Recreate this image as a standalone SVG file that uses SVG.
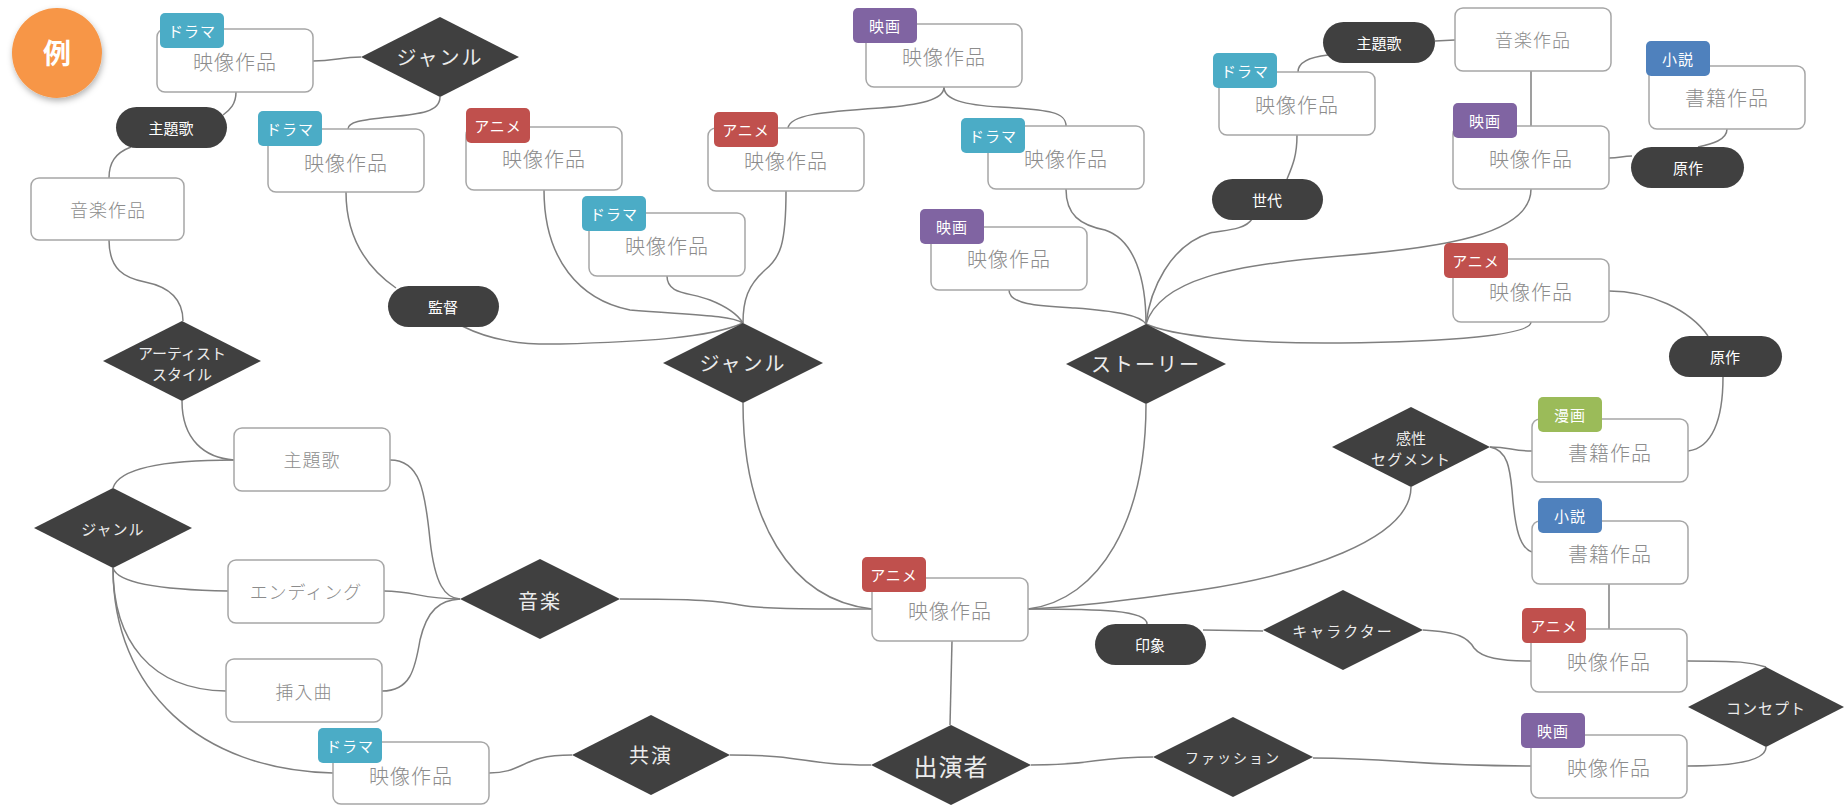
<svg xmlns="http://www.w3.org/2000/svg" width="1845" height="805" viewBox="0 0 1845 805">
<defs>
<filter id="sh" x="-30%" y="-30%" width="160%" height="160%"><feDropShadow dx="1" dy="3" stdDeviation="3" flood-color="#000" flood-opacity="0.3"/></filter>
<style>
text{font-family:"Noto Sans CJK JP","Noto Sans",sans-serif;text-anchor:middle;dominant-baseline:central}
.box{fill:#fff;stroke:#a6a6a6;stroke-width:1.5}
.dia,.pill{fill:#404040}
.drama{fill:#4BACC6}.anime{fill:#C0504D}.eiga{fill:#8064A2}.shosetsu{fill:#4F81BD}.manga{fill:#9BBB59}
.conn path{fill:none;stroke:#7f7f7f;stroke-width:1.5}
.bt{font-size:20px;fill:#8c8c8c;font-weight:300;letter-spacing:1px}
.bs{font-size:18px;fill:#8c8c8c;font-weight:300;letter-spacing:1px}
.tt{font-size:15px;fill:#fff;letter-spacing:1px}
.dt{font-size:20px;fill:#ececec;letter-spacing:2px}
.ds{font-size:15px;fill:#ececec}
.pt{font-size:15px;fill:#fff}
</style>
</defs>
<rect width="1845" height="805" fill="#fff"/>
<g id="connectors" class="conn">
<path d="M313,61 C335,61 340,57 361,57"/>
<path d="M236,92 C236,104 230,110 223,115"/>
<path d="M131,147 C115,153 109,163 109,178"/>
<path d="M109,240 C109,270 125,278 145,282 C170,287 183,300 183,321"/>
<path d="M440,97 C440,112 420,114 390,117 C360,120 348,122 348,129"/>
<path d="M346,192 C346,240 370,270 396,288"/>
<path d="M462,326 C490,340 520,345 560,344 C640,342 710,338 743,323"/>
<path d="M544,190 C544,260 580,300 630,310 C690,315 730,315 743,323"/>
<path d="M667,276 C667,295 690,292 710,300 C730,308 738,315 743,323"/>
<path d="M786,191 C786,245 780,258 765,270 C748,285 743,300 743,323"/>
<path d="M944,87 C944,100 920,105 880,108 C820,112 790,115 788,128"/>
<path d="M944,87 C944,100 965,105 1000,107 C1050,110 1066,112 1066,126"/>
<path d="M1066,189 C1066,215 1080,225 1105,230 C1135,240 1146,280 1146,324"/>
<path d="M1009,290 C1009,305 1040,306 1075,308 C1115,311 1140,315 1146,324"/>
<path d="M1252,219 C1245,230 1225,230 1210,233 C1170,245 1150,290 1146,324"/>
<path d="M1531,189 C1531,235 1440,248 1340,256 C1230,265 1160,280 1146,324"/>
<path d="M1531,322 C1531,335 1450,342 1340,343 C1240,344 1170,335 1146,324"/>
<path d="M1297,135 C1297,155 1293,165 1287,179"/>
<path d="M1298,72 C1298,62 1310,57 1328,55"/>
<path d="M1435,41 L1455,40"/>
<path d="M1531,71 L1531,126"/>
<path d="M1609,158 C1620,158 1622,156 1632,156"/>
<path d="M1727,129 C1727,140 1712,144 1698,147"/>
<path d="M1609,291 C1650,291 1690,310 1708,336"/>
<path d="M1723,377 C1723,420 1712,448 1688,451"/>
<path d="M1490,447 C1510,447 1512,451 1532,451"/>
<path d="M1490,447 C1508,450 1510,470 1512,490 C1515,530 1520,548 1532,552"/>
<path d="M1411,487 C1411,540 1300,575 1200,590 C1110,603 1060,608 1028,609"/>
<path d="M1609,584 L1609,629"/>
<path d="M1423,630 C1460,632 1468,638 1474,648 C1482,658 1500,661 1531,661"/>
<path d="M1203,630 L1263,631"/>
<path d="M1028,609 C1100,609 1147,610 1147,624"/>
<path d="M743,403 C743,520 790,600 872,609"/>
<path d="M1146,404 C1146,520 1100,600 1028,609"/>
<path d="M620,599 C700,599 720,601 740,605 C760,609 800,609 872,609"/>
<path d="M952,641 L950,725"/>
<path d="M871,765 C800,765 810,755 730,755"/>
<path d="M1031,765 C1100,765 1090,757 1153,757"/>
<path d="M1313,758 C1400,758 1410,766 1531,766"/>
<path d="M1687,766 C1740,766 1766,760 1766,747"/>
<path d="M1687,661 C1740,661 1750,662 1766,667"/>
<path d="M489,773 C525,773 520,755 572,755"/>
<path d="M113,488 C120,465 180,460 234,460"/>
<path d="M182,401 C182,440 205,458 234,460"/>
<path d="M113,568 C118,585 170,590 228,591"/>
<path d="M113,568 C113,640 150,690 226,691"/>
<path d="M113,568 C113,690 200,770 333,773"/>
<path d="M390,460 C420,460 425,490 430,540 C435,585 445,598 460,599"/>
<path d="M384,591 C415,591 420,599 460,599"/>
<path d="M382,691 C410,691 415,670 420,640 C427,610 440,600 460,599"/>
</g>
<g id="badge"><circle cx="57" cy="53" r="45" fill="#F79646" filter="url(#sh)"/><text x="57" y="52" style="font-size:28px;font-weight:bold;fill:#fff">例</text></g>

<g id="b1"><rect class="box" x="157" y="29" width="156" height="63" rx="8"/><rect class="drama" x="160" y="13" width="64" height="35" rx="5"/><text class="tt" x="192" y="30">ドラマ</text><text class="bt" x="235" y="61">映像作品</text></g>
<g id="b2"><rect class="box" x="268" y="129" width="156" height="63" rx="8"/><rect class="drama" x="258" y="111" width="64" height="35" rx="5"/><text class="tt" x="290" y="128">ドラマ</text><text class="bt" x="346" y="162">映像作品</text></g>
<g id="b3"><rect class="box" x="466" y="127" width="156" height="63" rx="8"/><rect class="anime" x="466" y="108" width="64" height="35" rx="5"/><text class="tt" x="498" y="125">アニメ</text><text class="bt" x="544" y="158">映像作品</text></g>
<g id="b4"><rect class="box" x="866" y="24" width="156" height="63" rx="8"/><rect class="eiga" x="853" y="8" width="64" height="35" rx="5"/><text class="tt" x="885" y="25">映画</text><text class="bt" x="944" y="56">映像作品</text></g>
<g id="b5"><rect class="box" x="708" y="128" width="156" height="63" rx="8"/><rect class="anime" x="714" y="112" width="64" height="35" rx="5"/><text class="tt" x="746" y="129">アニメ</text><text class="bt" x="786" y="160">映像作品</text></g>
<g id="b6"><rect class="box" x="589" y="213" width="156" height="63" rx="8"/><rect class="drama" x="582" y="196" width="64" height="35" rx="5"/><text class="tt" x="614" y="213">ドラマ</text><text class="bt" x="667" y="245">映像作品</text></g>
<g id="b7"><rect class="box" x="988" y="126" width="156" height="63" rx="8"/><rect class="drama" x="961" y="118" width="64" height="35" rx="5"/><text class="tt" x="993" y="135">ドラマ</text><text class="bt" x="1066" y="158">映像作品</text></g>
<g id="b8"><rect class="box" x="931" y="227" width="156" height="63" rx="8"/><rect class="eiga" x="920" y="209" width="64" height="35" rx="5"/><text class="tt" x="952" y="226">映画</text><text class="bt" x="1009" y="258">映像作品</text></g>
<g id="b9"><rect class="box" x="1219" y="72" width="156" height="63" rx="8"/><rect class="drama" x="1213" y="53" width="64" height="35" rx="5"/><text class="tt" x="1245" y="70">ドラマ</text><text class="bt" x="1297" y="104">映像作品</text></g>
<g id="b10"><rect class="box" x="1455" y="8" width="156" height="63" rx="8"/><text class="bs" x="1533" y="39">音楽作品</text></g>
<g id="b11"><rect class="box" x="1649" y="66" width="156" height="63" rx="8"/><rect class="shosetsu" x="1646" y="41" width="64" height="35" rx="5"/><text class="tt" x="1678" y="58">小説</text><text class="bt" x="1727" y="97">書籍作品</text></g>
<g id="b12"><rect class="box" x="1453" y="126" width="156" height="63" rx="8"/><rect class="eiga" x="1453" y="103" width="64" height="35" rx="5"/><text class="tt" x="1485" y="120">映画</text><text class="bt" x="1531" y="158">映像作品</text></g>
<g id="b13"><rect class="box" x="1453" y="259" width="156" height="63" rx="8"/><rect class="anime" x="1444" y="243" width="64" height="35" rx="5"/><text class="tt" x="1476" y="260">アニメ</text><text class="bt" x="1531" y="291">映像作品</text></g>
<g id="b14"><rect class="box" x="31" y="178" width="153" height="62" rx="8"/><text class="bs" x="108" y="209">音楽作品</text></g>
<g id="b15"><rect class="box" x="234" y="428" width="156" height="63" rx="8"/><text class="bs" x="312" y="459">主題歌</text></g>
<g id="b16"><rect class="box" x="228" y="560" width="156" height="63" rx="8"/><text class="bs" x="306" y="591">エンディング</text></g>
<g id="b17"><rect class="box" x="226" y="659" width="156" height="63" rx="8"/><text class="bs" x="304" y="691">挿入曲</text></g>
<g id="b18"><rect class="box" x="333" y="742" width="156" height="62" rx="8"/><rect class="drama" x="318" y="728" width="64" height="35" rx="5"/><text class="tt" x="350" y="745">ドラマ</text><text class="bt" x="411" y="775">映像作品</text></g>
<g id="b19"><rect class="box" x="872" y="578" width="156" height="63" rx="8"/><rect class="anime" x="862" y="557" width="64" height="35" rx="5"/><text class="tt" x="894" y="574">アニメ</text><text class="bt" x="950" y="610">映像作品</text></g>
<g id="b20"><rect class="box" x="1532" y="419" width="156" height="63" rx="8"/><rect class="manga" x="1538" y="397" width="64" height="35" rx="5"/><text class="tt" x="1570" y="414">漫画</text><text class="bt" x="1610" y="452">書籍作品</text></g>
<g id="b21"><rect class="box" x="1532" y="521" width="156" height="63" rx="8"/><rect class="shosetsu" x="1538" y="498" width="64" height="35" rx="5"/><text class="tt" x="1570" y="515">小説</text><text class="bt" x="1610" y="553">書籍作品</text></g>
<g id="b22"><rect class="box" x="1531" y="629" width="156" height="63" rx="8"/><rect class="anime" x="1522" y="608" width="64" height="35" rx="5"/><text class="tt" x="1554" y="625">アニメ</text><text class="bt" x="1609" y="661">映像作品</text></g>
<g id="b23"><rect class="box" x="1531" y="735" width="156" height="63" rx="8"/><rect class="eiga" x="1521" y="713" width="64" height="35" rx="5"/><text class="tt" x="1553" y="730">映画</text><text class="bt" x="1609" y="767">映像作品</text></g>

<g id="p1"><rect class="pill" x="116" y="107" width="111" height="41" rx="20.5"/><text class="pt" x="171" y="127">主題歌</text></g>
<g id="p2"><rect class="pill" x="388" y="286" width="111" height="41" rx="20.5"/><text class="pt" x="443" y="306">監督</text></g>
<g id="p3"><rect class="pill" x="1323" y="22" width="112" height="41" rx="20.5"/><text class="pt" x="1379" y="42">主題歌</text></g>
<g id="p4"><rect class="pill" x="1212" y="179" width="111" height="41" rx="20.5"/><text class="pt" x="1267" y="199">世代</text></g>
<g id="p5"><rect class="pill" x="1631" y="147" width="113" height="41" rx="20.5"/><text class="pt" x="1688" y="167">原作</text></g>
<g id="p6"><rect class="pill" x="1669" y="336" width="113" height="41" rx="20.5"/><text class="pt" x="1725" y="356">原作</text></g>
<g id="p7"><rect class="pill" x="1095" y="624" width="111" height="41" rx="20.5"/><text class="pt" x="1150" y="644">印象</text></g>

<g id="d1"><polygon class="dia" points="361,57 440,17 519,57 440,97"/><text class="dt" x="440" y="56">ジャンル</text></g>
<g id="d2"><polygon class="dia" points="103,361 182,321 261,361 182,401"/><text class="ds" x="182" y="352">アーティスト</text><text class="ds" x="182" y="373">スタイル</text></g>
<g id="d3"><polygon class="dia" points="663,363 743,323 823,363 743,403"/><text class="dt" x="743" y="362">ジャンル</text></g>
<g id="d4"><polygon class="dia" points="1066,364 1146,324 1226,364 1146,404"/><text class="dt" x="1146" y="363">ストーリー</text></g>
<g id="d5"><polygon class="dia" points="34,528 113,488 192,528 113,568"/><text class="ds" x="113" y="528" letter-spacing="1">ジャンル</text></g>
<g id="d6"><polygon class="dia" points="460,599 540,559 620,599 540,639"/><text class="dt" x="540" y="600">音楽</text></g>
<g id="d7"><polygon class="dia" points="1332,447 1411,407 1490,447 1411,487"/><text class="ds" x="1411" y="437">感性</text><text class="ds" x="1411" y="458" letter-spacing="1">セグメント</text></g>
<g id="d8"><polygon class="dia" points="1263,630 1343,590 1423,630 1343,670"/><text class="ds" x="1343" y="630" letter-spacing="2">キャラクター</text></g>
<g id="d9"><polygon class="dia" points="1688,707 1766,667 1844,707 1766,747"/><text class="ds" x="1766" y="707" letter-spacing="1">コンセプト</text></g>
<g id="d10"><polygon class="dia" points="871,765 951,725 1031,765 951,805"/><text class="dt" x="951" y="765" style="font-size:24px;letter-spacing:1px">出演者</text></g>
<g id="d11"><polygon class="dia" points="572,755 651,715 730,755 651,795"/><text class="dt" x="651" y="754">共演</text></g>
<g id="d12"><polygon class="dia" points="1153,757 1233,717 1313,757 1233,797"/><text class="ds" x="1233" y="757" letter-spacing="2" style="font-size:14px">ファッション</text></g>
</svg>
